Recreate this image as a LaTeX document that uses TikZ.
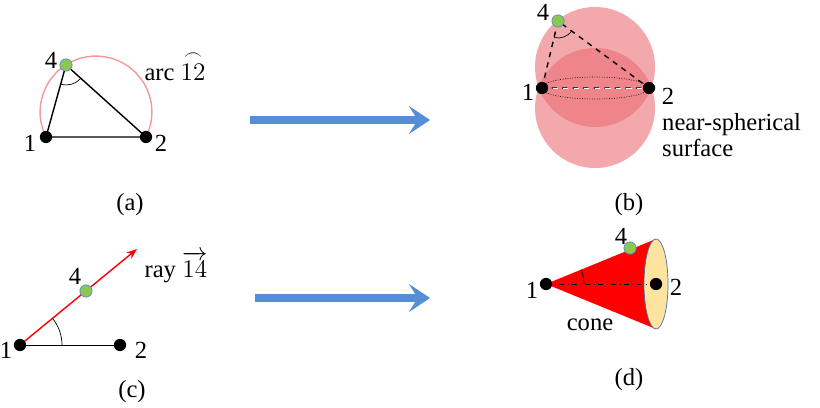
\documentclass[tikz,border=0pt]{standalone}
\usepackage{amsmath}
\usepackage{fontspec}
\setmainfont{Liberation Serif}
\usepackage{tikz}
\usetikzlibrary{arrows,arrows.meta}
\usetikzlibrary{calc}
\definecolor{pfeil}{RGB}{85,142,213}
\definecolor{kugel}{RGB}{235,110,115}
\definecolor{gruen}{RGB}{140,200,80}
\definecolor{sand}{RGB}{255,228,160}
\tikzset{
  dot/.style={circle,fill=black,inner sep=0pt,minimum size=7pt},
  gdot/.style={circle,fill=gruen,draw=pfeil,inner sep=0pt,minimum size=7pt},
  lab/.style={font=\fontsize{14}{15}\selectfont},
  bigarrow/.style={pfeil,line width=4pt,-{Stealth[length=12pt,width=16pt,inset=5pt]}},
}
\begin{document}
\begin{tikzpicture}[x=0.02cm,y=-0.02cm,lab]
    \useasboundingbox (0,0) rectangle (820,408);

    % (a)
    \draw[kugel!70,thick] (46,137) arc[start angle=153.4,end angle=386.6,radius=55.9];
    \draw[thick] (46,137) -- (146,137) -- (66,65) -- cycle;
    \draw ($(66,65)+(105:20)$) arc[start angle=105,end angle=42,radius=20];
    \node[dot] (a1) at (46,137) {};
    \node[dot] (a2) at (146,137) {};
    \node[gdot] (a4) at (66,65) {};
    \node at (30,143) {1};
    \node at (161,143) {2};
    \node at (51,60) {4};
    \node at (175,66) {arc $\overset{\frown}{12}$};
    \node at (130,205) {(a)};

    \draw[bigarrow] (250,120) -- (430,120);

    % (b)
    \fill[kugel,opacity=0.6] (595,67) circle (60);
    \fill[kugel,opacity=0.6] (595,108) circle (60);
    \draw[densely dotted] (595,88) ellipse (54 and 11);
    \draw[dashed,thick] (542,88) -- (558,21) -- (649,88) -- cycle;
    \draw[white,dashed] (542,88) -- (649,88);
    \draw ($(558,21)+(103:17)$) arc[start angle=103,end angle=36,radius=17];
    \node[dot] (b1) at (542,88) {};
    \node[dot] (b2) at (649,88) {};
    \node[gdot] (b4) at (558,21) {};
    \node at (528,92) {1};
    \node at (668,96) {2};
    \node at (543,12) {4};
    \node[align=left,anchor=west] at (656,135) {near-spherical\\surface};
    \node at (629,205) {(b)};

    % (c)
    \draw[red,thick,-{Stealth[length=6pt]}] (20,345) -- (137,249);
    \draw (20,345) -- (120,345);
    \draw (62,345) arc[start angle=0,end angle=-39,radius=42];
    \node[dot] (c1) at (20,345) {};
    \node[dot] (c2) at (120,345) {};
    \node[gdot] (c4) at (86,291) {};
    \node at (6,350) {1};
    \node at (141,350) {2};
    \node at (75,276) {4};
    \node at (176,267) {ray $\overrightarrow{14}$};
    \node at (132,392) {(c)};

    \draw[bigarrow] (255,298) -- (430,298);

    % (d)
    \fill[red] (546,284) -- (656,239) -- (656,329) -- cycle;
    \draw[pfeil!80!black,fill=sand] (656,284) ellipse (12 and 45);
    \draw[dash dot] (546,284) -- (656,284);
    \draw ($(546,284)+(-22:38)$) arc[start angle=-22,end angle=0,radius=38];
    \node[dot] (d1) at (546,284) {};
    \node[dot] (d2) at (656,284) {};
    \node[gdot] (d4) at (630,248) {};
    \node at (532,290) {1};
    \node at (676,287) {2};
    \node at (621,236) {4};
    \node at (590,325) {cone};
    \node at (629,380) {(d)};
\end{tikzpicture}
\end{document}
